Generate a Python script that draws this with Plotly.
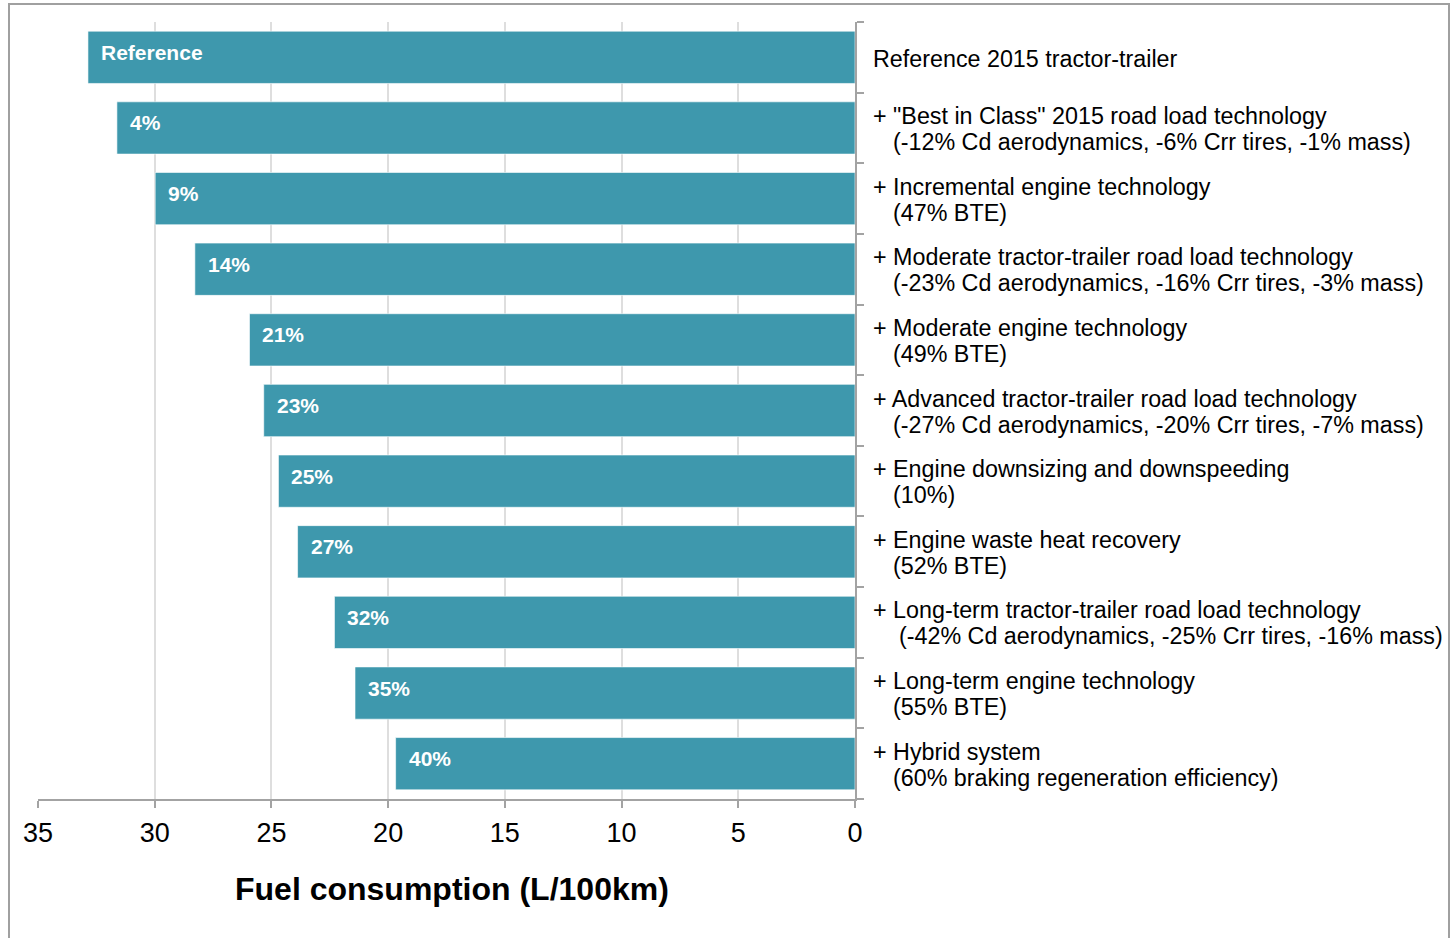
import plotly.graph_objects as go

# Fuel consumption of each technology package (L/100km), top to bottom
consumption = [32.86, 31.62, 29.98, 28.28, 25.94, 25.33, 24.70, 23.88, 22.30, 21.42, 19.68]
bar_labels = ["Reference", "4%", "9%", "14%", "21%", "23%", "25%", "27%", "32%", "35%", "40%"]
desc_line1 = [
    "Reference 2015 tractor-trailer",
    "+ \"Best in Class\" 2015 road load technology",
    "+ Incremental engine technology",
    "+ Moderate tractor-trailer road load technology",
    "+ Moderate engine technology",
    "+ Advanced tractor-trailer road load technology",
    "+ Engine downsizing and downspeeding",
    "+ Engine waste heat recovery",
    "+ Long-term tractor-trailer road load technology",
    "+ Long-term engine technology",
    "+ Hybrid system",
]
desc_line2 = [
    "",
    "(-12% Cd aerodynamics, -6% Crr tires, -1% mass)",
    "(47% BTE)",
    "(-23% Cd aerodynamics, -16% Crr tires, -3% mass)",
    "(49% BTE)",
    "(-27% Cd aerodynamics, -20% Crr tires, -7% mass)",
    "(10%)",
    "(52% BTE)",
    "(-42% Cd aerodynamics, -25% Crr tires, -16% mass)",
    "(55% BTE)",
    "(60% braking regeneration efficiency)",
]
x_ticks = [35, 30, 25, 20, 15, 10, 5, 0]

FONT = "Liberation Sans, Arial, Helvetica, sans-serif"
BAR_COLOR = "#3E98AD"
AXIS_COLOR = "#a3a3a3"
DESC_SIZE = 23.3

positions = list(range(len(consumption)))

fig = go.Figure(
    go.Bar(
        x=consumption,
        y=positions,
        orientation="h",
        width=0.74,
        marker=dict(color=BAR_COLOR, line=dict(color="rgba(255,255,255,0.6)", width=1)),
        hoverinfo="x",
    )
)

annotations = []
for i, (val, lab) in enumerate(zip(consumption, bar_labels)):
    annotations.append(dict(
        x=val, y=i, xref="x", yref="y", text=f"<b>{lab}</b>", showarrow=False,
        xanchor="left", yanchor="middle", xshift=11, yshift=5,
        font=dict(family=FONT, size=21, color="white"),
    ))

for i, (l1, l2) in enumerate(zip(desc_line1, desc_line2)):
    if l2:
        annotations.append(dict(
            x=1, y=i, xref="paper", yref="y", text=l1, showarrow=False,
            xanchor="left", yanchor="middle", xshift=16, yshift=12,
            font=dict(family=FONT, size=DESC_SIZE, color="black"),
        ))
        indent = 42 if l2.startswith("(-42") else 36
        annotations.append(dict(
            x=1, y=i, xref="paper", yref="y", text=l2, showarrow=False,
            xanchor="left", yanchor="middle", xshift=indent, yshift=-14,
            font=dict(family=FONT, size=DESC_SIZE, color="black"),
        ))
    else:
        annotations.append(dict(
            x=1, y=i, xref="paper", yref="y", text=l1, showarrow=False,
            xanchor="left", yanchor="middle", xshift=16, yshift=-2,
            font=dict(family=FONT, size=DESC_SIZE, color="black"),
        ))

# Axis title drawn below the tick labels
annotations.append(dict(
    x=0.507, y=-0.1158, xref="paper", yref="paper", text="<b>Fuel consumption (L/100km)</b>",
    showarrow=False, xanchor="center", yanchor="middle",
    font=dict(family=FONT, size=32, color="black"),
))

boundaries = [p - 0.5 for p in positions] + [positions[-1] + 0.5]

fig.update_layout(
    width=1451, height=938,
    margin=dict(l=38, r=596, t=22, b=139),
    paper_bgcolor="white", plot_bgcolor="white",
    showlegend=False,
    annotations=annotations,
    xaxis=dict(
        range=[35, 0], tickvals=x_ticks, ticktext=[str(t) for t in x_ticks],
        showgrid=True, gridcolor="#dedede", gridwidth=1.5,
        showline=True, linecolor=AXIS_COLOR, linewidth=2,
        ticks="outside", ticklen=7, tickwidth=2, tickcolor=AXIS_COLOR,
        tickfont=dict(family=FONT, size=27, color="black"),
        ticklabelstandoff=2,
        zeroline=False, fixedrange=True,
    ),
    yaxis=dict(
        range=[len(positions) - 0.5, -0.5], side="right",
        tickvals=boundaries, showticklabels=False,
        showgrid=False, zeroline=False,
        showline=True, linecolor=AXIS_COLOR, linewidth=2,
        ticks="outside", ticklen=7, tickwidth=2, tickcolor=AXIS_COLOR,
        fixedrange=True,
    ),
    shapes=[dict(
        type="rect", xref="paper", yref="paper",
        x0=(9 - 38) / 817, x1=(1449 - 38) / 817,
        y0=(799 - 960) / 777, y1=(799 - 4) / 777,
        line=dict(color="#a0a0a0", width=2), fillcolor="rgba(0,0,0,0)", layer="below",
    )],
)

fig.write_html("out.html")
